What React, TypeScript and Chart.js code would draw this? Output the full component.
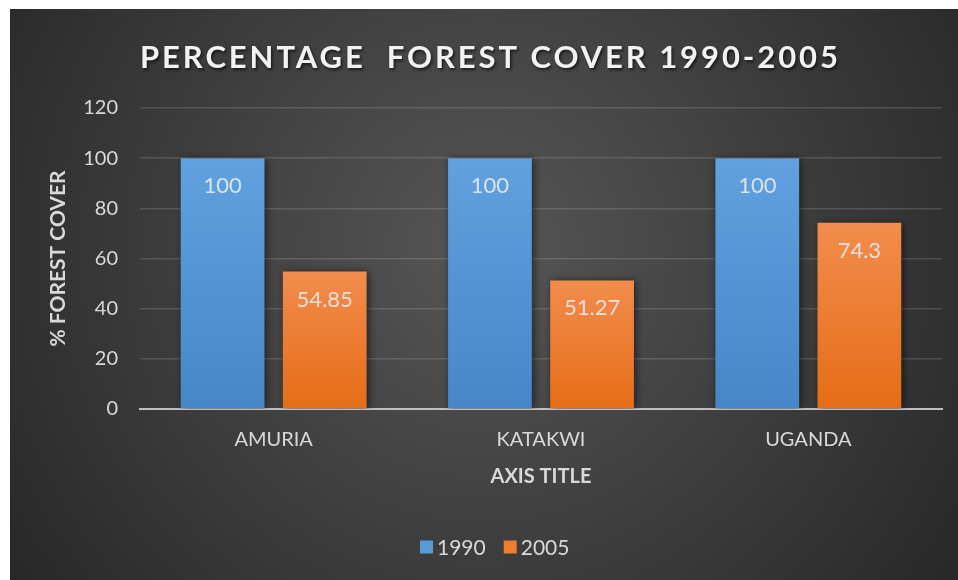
import { useEffect, useRef } from "react";
import { Chart, registerables } from "chart.js";

Chart.register(...registerables);

const categories = ["AMURIA", "KATAKWI", "UGANDA"];
const seriesNames = ["1990", "2005"];
const values1990 = [100, 100, 100];
const values2005 = [54.85, 51.27, 74.3];
const yTickValues = [0, 20, 40, 60, 80, 100, 120];
const chartTitle = "PERCENTAGE  FOREST COVER 1990-2005";

const FONT = "Lato, 'Open Sans', sans-serif";
const BLUE = ["#62a1df", "#4786c8"];
const ORANGE = ["#f28c4d", "#e56d17"];
const LEGEND_COLORS = ["#5b9bd5", "#ed7d31"];
const TEXT = "#d9d9d9";

function barGradient(colors: string[]) {
  return (ctx: any) => {
    const chart = ctx.chart;
    const y = chart.scales && chart.scales.y;
    if (!chart.chartArea || !y || ctx.type !== "data") return colors[0];
    const top = y.getPixelForValue(ctx.parsed ? ctx.parsed.y : ctx.raw);
    const bottom = y.getPixelForValue(0);
    if (!isFinite(top) || !isFinite(bottom) || top === bottom) return colors[0];
    const g = chart.ctx.createLinearGradient(0, top, 0, bottom);
    g.addColorStop(0, colors[0]);
    g.addColorStop(1, colors[1]);
    return g;
  };
}

const backgroundPlugin = {
  id: "bgPlugin",
  beforeDraw(chart: any) {
    const { ctx, width, height } = chart;
    ctx.save();
    const g = ctx.createRadialGradient(width * 0.5, height * 0.42, 0, width * 0.5, height * 0.42, width * 0.62);
    g.addColorStop(0, "#565656");
    g.addColorStop(1, "#272727");
    ctx.fillStyle = g;
    ctx.fillRect(0, 0, width, height);
    ctx.restore();
  },
};

const shadowPlugin = {
  id: "shadowPlugin",
  beforeDatasetsDraw(chart: any) {
    const ctx = chart.ctx;
    ctx.save();
    ctx.shadowColor = "rgba(0,0,0,0.55)";
    ctx.shadowBlur = 8;
    ctx.shadowOffsetX = 2;
    ctx.shadowOffsetY = 1;
  },
  afterDatasetsDraw(chart: any) {
    chart.ctx.restore();
  },
};

const labelPlugin = {
  id: "valueLabels",
  afterDatasetsDraw(chart: any) {
    const ctx = chart.ctx;
    ctx.save();
    ctx.font = `22px ${FONT}`;
    ctx.textAlign = "center";
    ctx.textBaseline = "middle";
    ctx.fillStyle = "rgba(236,240,246,0.85)";
    chart.data.datasets.forEach((ds: any, i: number) => {
      const meta = chart.getDatasetMeta(i);
      meta.data.forEach((bar: any, j: number) => {
        ctx.fillText(String(ds.data[j]), bar.x, bar.y + 28);
      });
    });
    ctx.restore();
  },
};

const titleLegendPlugin = {
  id: "titleLegend",
  afterDraw(chart: any) {
    const ctx = chart.ctx;
    ctx.save();
    // title with letter spacing
    ctx.font = `bold 31px ${FONT}`;
    ctx.textBaseline = "middle";
    ctx.textAlign = "left";
    const raw = ctx.measureText(chartTitle).width;
    const targetW = 698;
    const spacing = (targetW - raw) / (chartTitle.length - 1);
    (ctx as any).letterSpacing = `${spacing}px`;
    const startX = 479 - targetW / 2;
    ctx.shadowColor = "rgba(0,0,0,0.6)";
    ctx.shadowBlur = 3;
    ctx.shadowOffsetX = 1.5;
    ctx.shadowOffsetY = 2;
    ctx.fillStyle = "#f2f2f2";
    ctx.fillText(chartTitle, startX, 49);
    (ctx as any).letterSpacing = "0px";
    ctx.shadowColor = "transparent";
    ctx.shadowBlur = 0;
    ctx.shadowOffsetX = 0;
    ctx.shadowOffsetY = 0;

    // legend
    ctx.font = `21px ${FONT}`;
    let x = 410;
    const cy = 538;
    seriesNames.forEach((name, i) => {
      ctx.fillStyle = LEGEND_COLORS[i];
      ctx.fillRect(x, cy - 6.5, 13, 13);
      x += 13 + 4;
      ctx.fillStyle = TEXT;
      ctx.fillText(name, x, cy + 1);
      x += ctx.measureText(name).width + 18;
    });
    ctx.restore();
  },
};

export default function App() {
  const ref = useRef<HTMLCanvasElement | null>(null);

  useEffect(() => {
    if (!ref.current) return;
    const chart = new Chart(ref.current, {
      type: "bar",
      data: {
        labels: categories,
        datasets: [
          {
            label: seriesNames[0],
            data: values1990,
            backgroundColor: barGradient(BLUE),
            categoryPercentage: 0.764,
            barPercentage: 0.82,
          },
          {
            label: seriesNames[1],
            data: values2005,
            backgroundColor: barGradient(ORANGE),
            categoryPercentage: 0.764,
            barPercentage: 0.82,
          },
        ],
      },
      options: {
        animation: false,
        responsive: true,
        maintainAspectRatio: false,
        layout: { padding: { left: 36, right: 16, top: 99, bottom: 0 } },
        plugins: {
          title: { display: false },
          legend: { display: false },
          tooltip: { enabled: false },
        },
        scales: {
          x: {
            grid: { display: false, drawTicks: false },
            border: { display: true, color: "#bfbfbf", width: 2 },
            ticks: { color: TEXT, font: { family: FONT, size: 20 }, padding: 19 },
            title: {
              display: true,
              text: "AXIS TITLE",
              color: TEXT,
              font: { family: FONT, size: 20, weight: "bold" },
              padding: { top: 0, bottom: 91 },
            },
            afterFit: (s: any) => {
              s.height = 171;
            },
          },
          y: {
            min: 0,
            max: 120,
            afterBuildTicks: (s: any) => {
              s.ticks = yTickValues.map((v) => ({ value: v }));
            },
            grid: { color: "rgba(255,255,255,0.14)", lineWidth: 1.5, drawTicks: false },
            border: { display: false },
            ticks: { color: TEXT, font: { family: FONT, size: 20 }, padding: 22 },
            title: {
              display: true,
              text: "% FOREST COVER",
              color: TEXT,
              font: { family: FONT, size: 21, weight: "bold" },
              padding: { top: 0, bottom: 0 },
            },
            afterFit: (s: any) => {
              s.width = 94;
            },
          },
        },
      },
      plugins: [backgroundPlugin, shadowPlugin, labelPlugin, titleLegendPlugin],
    });
    return () => chart.destroy();
  }, []);

  return (
    <div style={{ position: "absolute", left: 10, top: 9, width: 948, height: 571 }}>
      <canvas ref={ref} />
    </div>
  );
}
